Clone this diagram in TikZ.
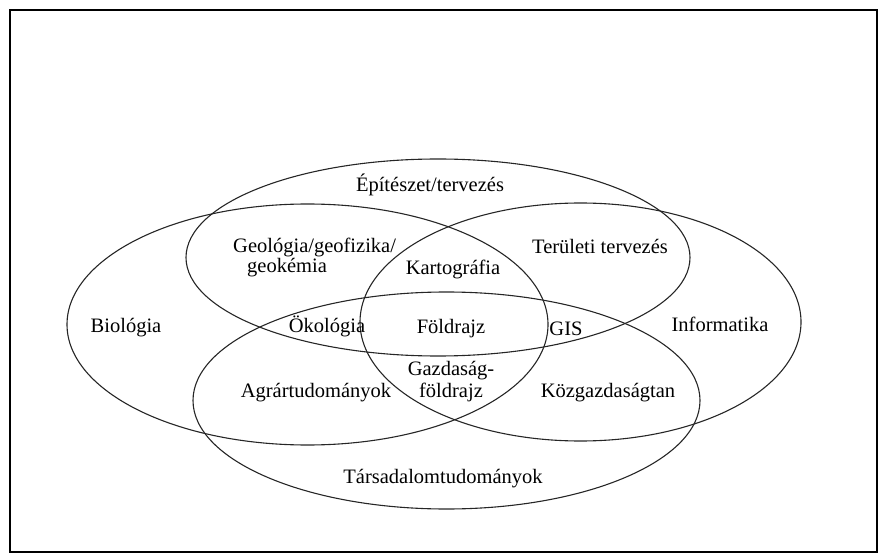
\documentclass[tikz,border=0pt]{standalone}
\usepackage{fontspec}
\setmainfont{Liberation Serif}
\begin{document}
\begin{tikzpicture}[x=1pt,y=-1pt,
  venn/.style={draw=black!85,line width=1.1pt},
  lbl/.style={inner sep=0pt,anchor=base,font=\fontsize{20.5}{22}\selectfont,text=black},
  frame/.style={draw=black,line width=2pt}]
\useasboundingbox (0,0) rectangle (878,553);
\draw[frame] (10,10) -- (10,552) -- (877,552) -- (877,10) -- cycle;
% ellipses
\draw[venn] (438,257.5) ellipse [x radius=252pt, y radius=98.5pt];
\draw[venn] (307.5,324.5) ellipse [x radius=240.5pt, y radius=120.5pt];
\draw[venn] (580.5,322) ellipse [x radius=220.5pt, y radius=119pt];
\draw[venn] (446.5,400.5) ellipse [x radius=253.5pt, y radius=108.5pt];
% labels
\node[lbl] (epit) at (430,192) {Építészet/tervezés};
\node[lbl,anchor=base west] (geo1) at (233,253) {Geológia/geofizika/};
\node[lbl,anchor=base west] (geo2) at (247,273) {geokémia};
\node[lbl] (kart) at (453,275) {Kartográfia};
\node[lbl] (terul) at (600,254) {Területi tervezés};
\node[lbl] (bio) at (126,332) {Biológia};
\node[lbl] (okol) at (327,332) {Ökológia};
\node[lbl] (fold) at (451,334) {Földrajz};
\node[lbl] (gis) at (566,335) {GIS};
\node[lbl] (info) at (720,331) {Informatika};
\node[lbl] (gazd1) at (451,375) {Gazdaság-};
\node[lbl] (gazd2) at (451,397) {földrajz};
\node[lbl] (agrar) at (316,397) {Agrártudományok};
\node[lbl] (kozg) at (608,397) {Közgazdaságtan};
\node[lbl] (tars) at (443,483) {Társadalomtudományok};
\end{tikzpicture}
\end{document}
